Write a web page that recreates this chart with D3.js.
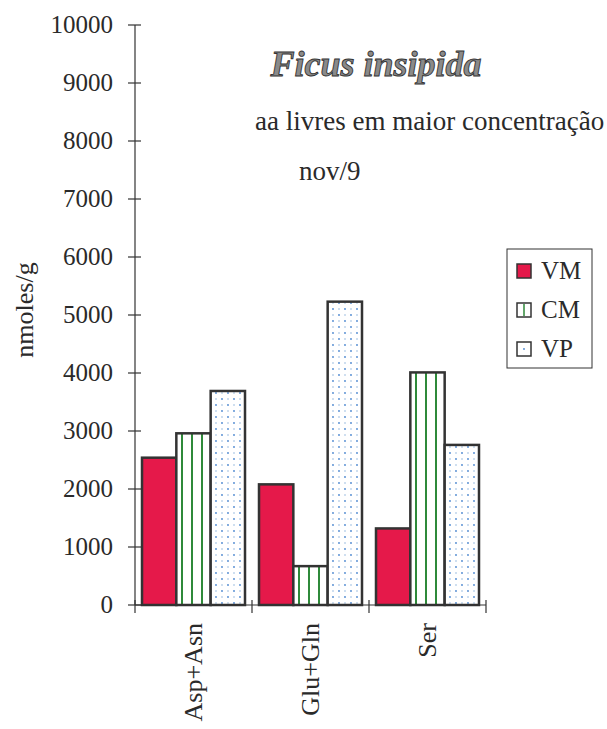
<!DOCTYPE html>
<html><head><meta charset="utf-8">
<script src="https://cdn.jsdelivr.net/npm/d3@7"></script>
<style>body{margin:0;background:#fff}svg{display:block}</style>
</head><body>
<script>
const categories = ["Asp+Asn", "Glu+Gln", "Ser"];
const seriesNames = ["VM", "CM", "VP"];
const VM = [2540, 2080, 1320];
const CM = [2960, 670, 4010];
const VP = [3690, 5230, 2760];
const yTicks = [0,1000,2000,3000,4000,5000,6000,7000,8000,9000,10000];

const FONT = "Liberation Serif, Times New Roman, DejaVu Serif, serif";
const W = 607, H = 729;
const svg = d3.select("body").append("svg").attr("width", W).attr("height", H)
  .attr("font-family", FONT);
const defs = svg.append("defs");
const pc = defs.append("pattern").attr("id","pCM").attr("patternUnits","userSpaceOnUse").attr("width",10).attr("height",10).attr("x",2);
pc.append("rect").attr("width",10).attr("height",10).attr("fill","#fff");
pc.append("rect").attr("x",4).attr("y",0).attr("width",2).attr("height",10).attr("fill","#2f8a3a");
const pv = defs.append("pattern").attr("id","pVP").attr("patternUnits","userSpaceOnUse").attr("width",12).attr("height",12);
pv.append("rect").attr("width",12).attr("height",12).attr("fill","#fff");
pv.append("circle").attr("cx",3).attr("cy",3).attr("r",0.9).attr("fill","#4a86d0");
pv.append("circle").attr("cx",9).attr("cy",9).attr("r",0.9).attr("fill","#4a86d0");
pv.append("circle").attr("cx",9).attr("cy",3).attr("r",0.7).attr("fill","#7aa6d8");
pv.append("circle").attr("cx",3).attr("cy",9).attr("r",0.7).attr("fill","#7aa6d8");

const fills = {VM:"#e5194a", CM:"url(#pCM)", VP:"url(#pVP)"};
const values = {VM, CM, VP};

const x0 = 135, x1 = 486, yTop = 25, yBot = 605;
const x = d3.scaleBand().domain(categories).range([x0, x1]).paddingInner(0).paddingOuter(0);
const y = d3.scaleLinear().domain([0, 10000]).range([yBot, yTop]);
const inner = d3.scaleBand().domain(seriesNames).range([7, x.bandwidth()-7]).padding(0);

const ink = "#2a2a2a";
// y axis
const gy = svg.append("g").attr("transform", `translate(${x0},0)`);
gy.append("line").attr("y1", yTop).attr("y2", yBot).attr("stroke","#333").attr("stroke-width",1.2);
gy.selectAll("line.t").data(yTicks).join("line").attr("class","t")
  .attr("x1",-7).attr("x2",6).attr("y1",d=>y(d)).attr("y2",d=>y(d)).attr("stroke","#333").attr("stroke-width",1.2);
gy.selectAll("text").data(yTicks).join("text")
  .attr("x",-22).attr("y",d=>y(d)+8).attr("text-anchor","end").attr("font-size",25).attr("fill",ink).text(d=>d);

// bars
categories.forEach((c,i)=>{
  const g = svg.append("g").attr("transform",`translate(${x(c)},0)`);
  g.selectAll("rect").data(seriesNames).join("rect")
    .attr("x", s=>inner(s)).attr("width", inner.bandwidth())
    .attr("y", s=>y(values[s][i])).attr("height", s=>yBot - y(values[s][i]))
    .attr("fill", s=>fills[s]).attr("stroke","#333").attr("stroke-width",2.5);
});

// x axis
const gx = svg.append("g");
gx.append("line").attr("x1",x0).attr("x2",x1).attr("y1",yBot).attr("y2",yBot).attr("stroke","#333").attr("stroke-width",1.2);
const bounds = categories.map(c=>x(c)).concat([x1]);
gx.selectAll("line.t").data(bounds).join("line").attr("class","t")
  .attr("x1",d=>d).attr("x2",d=>d).attr("y1",yBot-5).attr("y2",yBot+8).attr("stroke","#333").attr("stroke-width",1.2);
gx.selectAll("text").data(categories).join("text")
  .attr("transform",d=>`translate(${x(d)+x.bandwidth()/2+8},623) rotate(-90)`)
  .attr("text-anchor","end").attr("font-size",26).attr("fill",ink).text(d=>d);

// y label
svg.append("text").attr("transform","translate(33,310) rotate(-90)").attr("text-anchor","middle").attr("font-size",26).attr("fill",ink).text("nmoles/g");

// titles
svg.append("text").attr("x",376).attr("y",76).attr("text-anchor","middle").attr("font-size",36)
  .attr("font-weight","bold").attr("font-style","italic").attr("fill","#8a8a8a").attr("stroke","#333").attr("stroke-width",0.9)
  .text("Ficus insipida");
svg.append("text").attr("x",255).attr("y",130).attr("font-size",27).attr("fill",ink).text("aa livres em maior concentração");
svg.append("text").attr("x",299).attr("y",180).attr("font-size",27).attr("fill",ink).text("nov/9");

// legend
const lg = svg.append("g").attr("transform","translate(507,249)");
lg.append("rect").attr("width",85).attr("height",119).attr("fill","#fff").attr("stroke","#333").attr("stroke-width",1);
seriesNames.forEach((s,i)=>{
  const yy = 22 + i*39;
  lg.append("rect").attr("x",10).attr("y",yy-7).attr("width",14).attr("height",14)
    .attr("fill", s==="VM" ? "#e5194a" : "#fff").attr("stroke","#333").attr("stroke-width",1.5);
  if (s==="CM") lg.append("line").attr("x1",17).attr("x2",17).attr("y1",yy-6).attr("y2",yy+6).attr("stroke","#2f8a3a").attr("stroke-width",1.5);
  if (s==="VP") lg.append("circle").attr("cx",17).attr("cy",yy).attr("r",0.9).attr("fill","#4a86d0");
  lg.append("text").attr("x",34).attr("y",yy+8).attr("font-size",25).attr("fill",ink).text(s);
});
</script>
</body></html>
